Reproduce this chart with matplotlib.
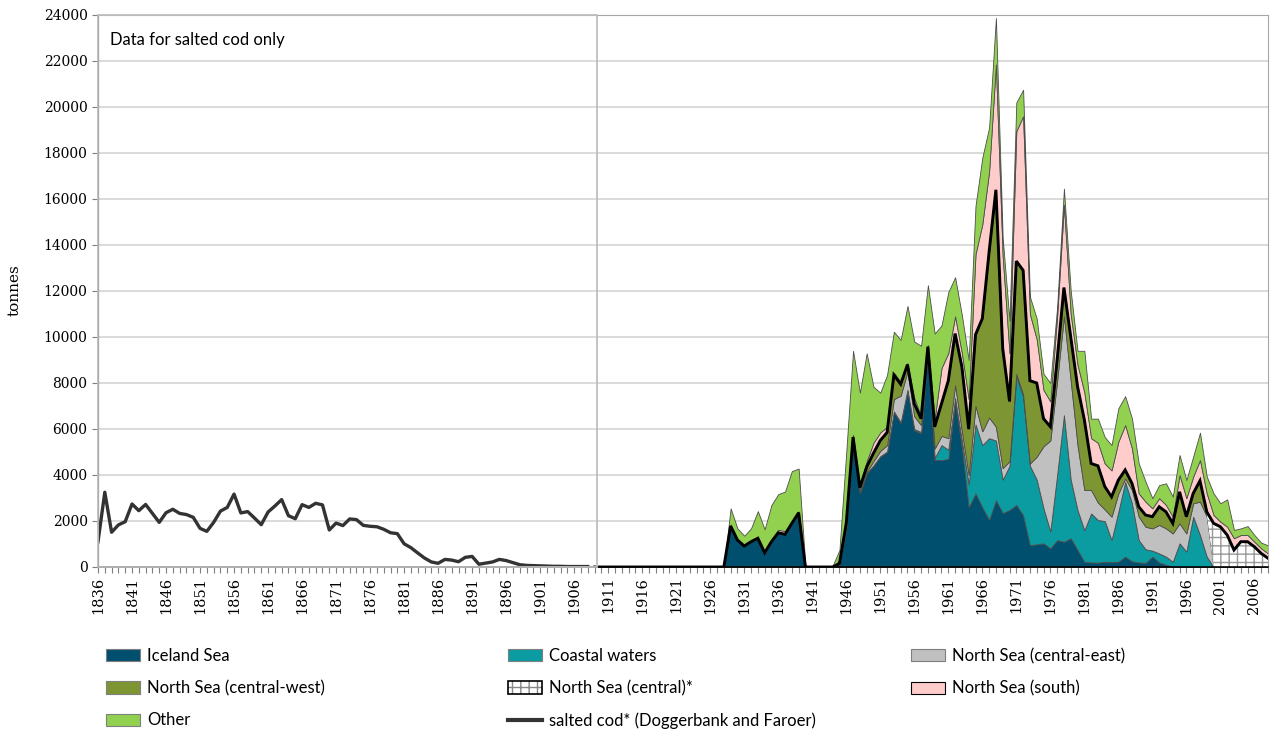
import numpy as np
import matplotlib.pyplot as plt
from matplotlib.patches import Patch, Rectangle
from matplotlib.lines import Line2D
from matplotlib.legend_handler import HandlerTuple

plt.rcParams['font.family'] = 'DejaVu Serif'

# salted cod landings 1836-1908 (tonnes)
salted_years = np.arange(1836, 1909)
salted_cod = [1100, 3250, 1510, 1830, 1970, 2740, 2450, 2720, 2330, 1940,
              2360, 2510, 2330, 2280, 2160, 1680, 1550, 1940, 2430, 2590,
              3170, 2350, 2410, 2130, 1840, 2390, 2650, 2930, 2230, 2100,
              2710, 2590, 2770, 2700, 1610, 1910, 1800, 2090, 2060, 1810,
              1770, 1750, 1640, 1490, 1450, 1010, 840, 610, 390, 220,
              160, 330, 300, 230, 420, 460, 120, 170, 220, 330,
              280, 190, 100, 70, 60, 50, 40, 30, 30, 20,
              20, 20, 20]

# catch by fishing area 1928-2008 (tonnes), nothing recorded 1909-1927
years = np.arange(1928, 2009)
iceland = [0, 1780, 1170, 910, 1100, 1250, 620, 1100, 1490, 1420,
           1900, 2360, 0, 0, 0, 0, 0, 90, 1700, 5400,
           3200, 4070, 4400, 4800, 5000, 6750, 6270, 7690, 5950, 5810,
           9450, 4650, 4650, 4700, 7200, 5200, 2600, 3200, 2600, 2050,
           2900, 2350, 2480, 2700, 2250, 950, 985, 1030, 810, 1170,
           1100, 1250, 740, 230, 200, 190, 230, 220, 230, 450,
           250, 200, 180, 450, 200, 100, 20, 0, 0, 0,
           0, 0, 0, 0, 0, 0, 0, 0, 0, 0,
           0]
coastal = [0, 0, 0, 0, 0, 0, 0, 0, 0, 0,
           0, 0, 0, 0, 0, 0, 0, 10, 20, 20,
           20, 20, 20, 20, 20, 20, 20, 20, 50, 60,
           30, 100, 650, 400, 150, 300, 1000, 3000, 2700, 3550,
           2600, 1450, 1920, 5600, 5150, 3450, 2815, 1520, 740, 2830,
           5500, 2550, 1740, 1370, 2130, 1850, 1770, 950, 2170, 3250,
           2520, 970, 590, 260, 390, 350, 210, 1030, 670, 2190,
           1390, 450, 0, 0, 0, 0, 0, 0, 0, 0,
           0]
ns_central_east = [0, 0, 0, 0, 0, 0, 0, 0, 0, 0,
                   0, 0, 0, 0, 0, 0, 0, 20, 40, 80,
                   60, 60, 180, 230, 280, 530, 1160, 790, 550, 300,
                   40, 400, 400, 500, 550, 400, 400, 800, 600, 900,
                   600, 500, 200, 100, 100, 100, 1000, 2700, 3950, 4100,
                   4300, 4300, 2820, 1750, 1020, 760, 500, 1020, 800, 150,
                   580, 1020, 980, 970, 1240, 1230, 1230, 870, 790, 580,
                   1450, 1740, 0, 0, 0, 0, 0, 0, 0, 0,
                   0]
ns_central_west = [0, 0, 0, 0, 0, 0, 0, 0, 0, 0,
                   0, 0, 0, 0, 0, 0, 0, 30, 140, 150,
                   170, 200, 350, 450, 550, 1050, 500, 300, 550, 280,
                   60, 950, 1400, 2500, 2250, 2800, 2000, 3100, 4900, 7200,
                   10300, 5200, 2600, 4900, 5400, 3600, 3200, 1200, 600, 900,
                   1250, 1900, 2550, 3050, 1150, 1600, 1000, 860, 580, 370,
                   290, 430, 510, 510, 790, 720, 440, 1370, 730, 430,
                   910, 110, 0, 0, 0, 0, 0, 0, 0, 0,
                   0]
ns_central = [0] * 71 + [100, 1900, 1750, 1390, 740, 1100, 1100, 880, 590, 380]
ns_south = [0, 70, 60, 60, 60, 60, 60, 60, 130, 140,
            60, 60, 0, 0, 0, 0, 0, 150, 300, 100,
            100, 250, 450, 350, 250, 100, 100, 70, 250, 100,
            70, 350, 1550, 1200, 750, 600, 1300, 3500, 4100, 3500,
            5450, 4000, 2100, 5650, 6700, 2900, 1900, 1250, 1100, 1900,
            3600, 1000, 950, 1200, 1100, 1000, 1000, 1150, 1670, 1950,
            1520, 580, 580, 360, 370, 300, 290, 730, 800, 730,
            900, 800, 360, 220, 360, 510, 290, 290, 220, 220,
            210]
other = [0, 700, 450, 390, 520, 1120, 960, 1540, 1550, 1720,
         2210, 1860, 0, 0, 0, 0, 60, 440, 2800, 3650,
         4030, 4690, 2440, 1730, 2250, 1780, 1820, 2480, 2450, 3070,
         2600, 3700, 1850, 2650, 1700, 1650, 1700, 2100, 2900, 1900,
         2020, 800, 1400, 1250, 1150, 750, 900, 700, 800, 400,
         700, 1000, 600, 1800, 850, 1050, 1150, 1100, 1450, 1260,
         1300, 1300, 870, 440, 570, 940, 870, 870, 790, 870,
         1190, 730, 940, 800, 1190, 360, 290, 390, 290, 250,
         350]

names = ['Iceland Sea', 'Coastal waters', 'North Sea (central-east)',
         'North Sea (central-west)', 'North Sea (central)*', 'North Sea (south)', 'Other']
colors = ['#004F6E', '#0A9CA1', '#C0C0C0', '#7D9633', 'white', '#FFCCCC', '#92D050']

gap_years = np.arange(1909, 1928)
x = np.concatenate([gap_years, years])
series = [iceland, coastal, ns_central_east, ns_central_west, ns_central, ns_south, other]
layers = [np.concatenate([np.zeros(len(gap_years)), np.array(s, float)]) for s in series]
tops = np.cumsum(layers, axis=0)

fig = plt.figure(figsize=(12.72, 7.31), dpi=100)
ax = fig.add_axes([98/1272, 1-567/731, 1170/1272, 552/731])

bottom = np.zeros(len(x))
for i, (name, col) in enumerate(zip(names, colors)):
    if i == 4:
        ax.fill_between(x, bottom, tops[i], facecolor='white', edgecolor='#999999',
                        hatch='++', linewidth=0, zorder=2)
    else:
        ax.fill_between(x, bottom, tops[i], facecolor=col, edgecolor='#4D4D4D',
                        linewidth=0.6, zorder=2)
    bottom = tops[i]

# top of North Sea (central) layer drawn as heavy black line
ax.plot(x, tops[4], color='black', lw=2.1, zorder=4, solid_joinstyle='miter')
ax.plot(salted_years, salted_cod, color='#333333', lw=2.4, zorder=4)

# box marking the salted-cod-only period
ax.add_patch(Rectangle((1836, 0), 1909.3 - 1836, 24000, fill=False,
                       edgecolor='#BFBFBF', lw=1.3, zorder=5, clip_on=False))
fig.text(110/1272, 1-40/731, 'Data for salted cod only', family='Lato', fontsize=12, va='center')

ax.set_xlim(1836, 2008)
ax.set_ylim(0, 24000)
ax.set_yticks(np.arange(0, 24001, 2000))
ax.set_yticklabels([str(v) for v in range(0, 24001, 2000)], fontsize=10)
ax.set_xticks(np.arange(1836, 2009, 5))
ax.set_xticklabels([str(v) for v in range(1836, 2009, 5)], rotation=90, fontsize=10.5)
ax.set_xticks(np.arange(1836, 2009, 1), minor=True)
ax.tick_params(axis='both', which='both', direction='out', length=4, width=0.8, color='#7F7F7F')
ax.tick_params(axis='x', pad=3)
ax.grid(axis='y', color='#D4D4D4', lw=1.2, zorder=0)
ax.set_axisbelow(True)
for side in ['top', 'right']:
    ax.spines[side].set_color('#A6A6A6')
ax.spines['left'].set_color('black')
ax.spines['bottom'].set_color('black')
ax.spines['bottom'].set_linewidth(1.2)

fig.text(15/1272, 1-290/731, 'tonnes', fontsize=11, rotation=90, va='center', ha='center')

# legend, three columns placed by hand
def box(c, ec='#7F7F7F'):
    return Patch(facecolor=c, edgecolor=ec, lw=0.8)

hatch_handle = (Patch(facecolor='white', edgecolor='#888888', hatch='++', lw=0),
                Patch(fill=False, edgecolor='black', lw=1.2))
cod_handle = Line2D([], [], color='#333333', lw=3)
columns = [
    ([box(colors[0]), box(colors[3]), box(colors[6])], [names[0], names[3], names[6]], 106),
    ([box(colors[1]), hatch_handle, cod_handle], [names[1], names[4], 'salted cod* (Doggerbank and Faroer)'], 508),
    ([box(colors[2]), box(colors[5], 'black')], [names[2], names[5]], 911),
]
for handles, labels, px in columns:
    fig.legend(handles, labels, loc='upper left', bbox_to_anchor=(px/1272, 1-648/731),
               frameon=False, borderpad=0, borderaxespad=0, handlelength=2.05,
               handleheight=0.75, handletextpad=0.4, labelspacing=0.97,
               prop={'family': 'Lato', 'size': 12},
               handler_map={tuple: HandlerTuple(ndivide=1, pad=0)})

fig.savefig('out.png', dpi=100)
